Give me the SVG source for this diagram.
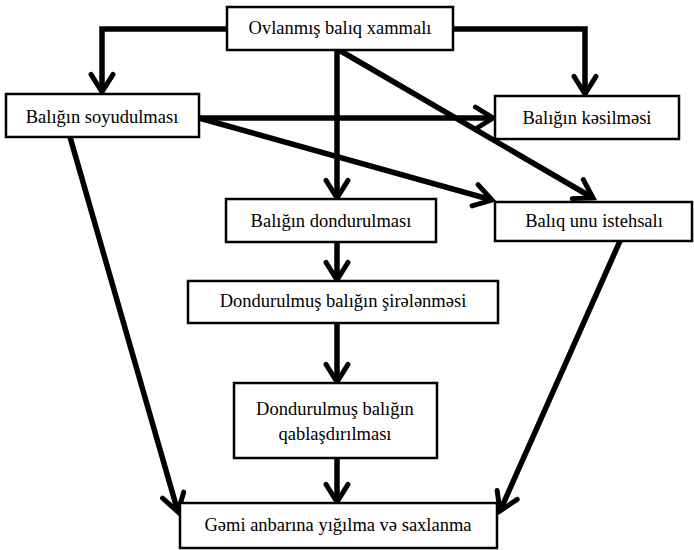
<svg xmlns="http://www.w3.org/2000/svg" width="694" height="550" viewBox="0 0 694 550">
  <style>
    .box { fill: #ffffff; stroke: #000000; stroke-width: 2.5; }
    .lbl { font-size: 18.5px; fill: #000000; text-anchor: middle; }
    .con { fill: none; stroke: #000000; stroke-width: 5.5; stroke-linejoin: miter; }
  </style>
  <defs>
    <marker id="arrow" viewBox="0 0 10 10" refX="8.4" refY="5" markerWidth="5" markerHeight="5" orient="auto" markerUnits="strokeWidth">
      <path d="M2,1 L8.4,5 L2,9" fill="none" stroke="#000000" stroke-width="1.8" stroke-linecap="round" stroke-linejoin="miter"/>
    </marker>
  </defs>
  <rect width="694" height="550" fill="#ffffff"/>

  <g id="connectors">
    <path class="con" d="M227,29 H102 V92" marker-end="url(#arrow)"/>
    <path class="con" d="M453,29 H585 V94" marker-end="url(#arrow)"/>
    <path class="con" d="M337,50 V198" marker-end="url(#arrow)"/>
    <path class="con" d="M339,50 L593,198" marker-end="url(#arrow)"/>
    <path class="con" d="M199,118 H493" marker-end="url(#arrow)"/>
    <path class="con" d="M199,118 L492,200" marker-end="url(#arrow)"/>
    <path class="con" d="M70,137 L178,512" marker-end="url(#arrow)"/>
    <path class="con" d="M620,241 L500,511" marker-end="url(#arrow)"/>
    <path class="con" d="M337,242 V280" marker-end="url(#arrow)"/>
    <path class="con" d="M337,323 V382" marker-end="url(#arrow)"/>
    <path class="con" d="M337,458 V502" marker-end="url(#arrow)"/>
  </g>

  <g font-family="Liberation Serif, Tinos, DejaVu Serif, Noto Serif, FreeSerif, Times, serif">
  <g id="node-xammal">
    <rect class="box" x="227" y="7" width="226" height="43"/>
    <text class="lbl" x="340" y="34">Ovlanmış balıq xammalı</text>
  </g>
  <g id="node-soyudulma">
    <rect class="box" x="6" y="94" width="193" height="43"/>
    <text class="lbl" x="102" y="123">Balığın soyudulması</text>
  </g>
  <g id="node-kesilme">
    <rect class="box" x="495" y="96" width="184" height="43"/>
    <text class="lbl" x="587" y="124">Balığın kəsilməsi</text>
  </g>
  <g id="node-dondurulma">
    <rect class="box" x="226" y="199" width="210" height="43"/>
    <text class="lbl" x="331" y="227">Balığın dondurulması</text>
  </g>
  <g id="node-balig-unu">
    <rect class="box" x="495" y="202" width="197" height="39"/>
    <text class="lbl" x="594" y="227">Balıq unu istehsalı</text>
  </g>
  <g id="node-sirelenme">
    <rect class="box" x="188" y="281" width="310" height="42"/>
    <text class="lbl" x="343" y="307">Dondurulmuş balığın şirələnməsi</text>
  </g>
  <g id="node-qablasdirma">
    <rect class="box" x="234" y="383" width="203" height="75"/>
    <text class="lbl" x="335" y="415">Dondurulmuş balığın</text>
    <text class="lbl" x="335" y="440">qablaşdırılması</text>
  </g>
  <g id="node-anbar">
    <rect class="box" x="180" y="503" width="317" height="45"/>
    <text class="lbl" x="338" y="531">Gəmi anbarına yığılma və saxlanma</text>
  </g>
  </g>
</svg>
